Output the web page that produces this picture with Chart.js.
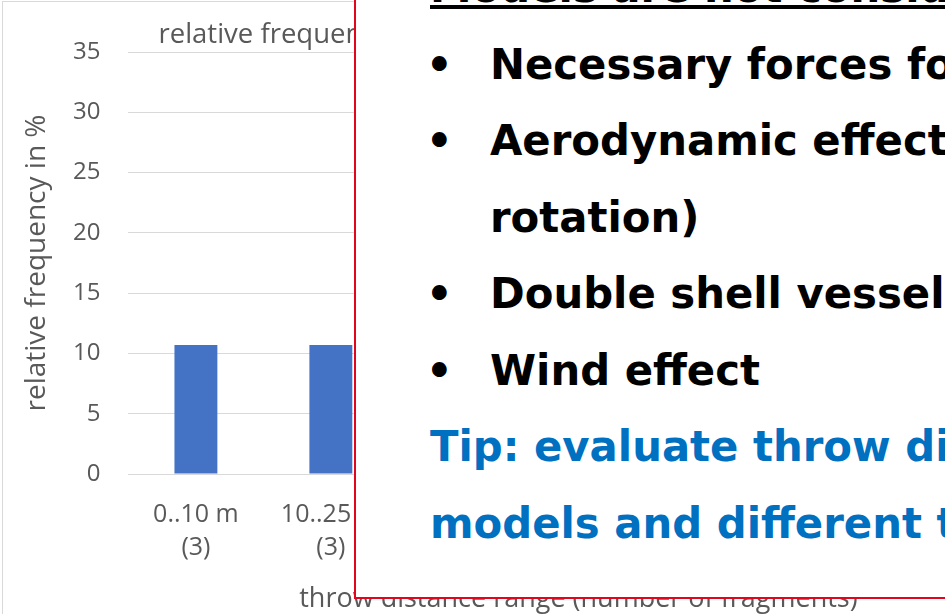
<!DOCTYPE html>
<html>
<head>
<meta charset="utf-8">
<script src="https://cdn.jsdelivr.net/npm/chart.js@4"></script>
<style>
    html, body {
        margin: 0;
        width: 945px;
        height: 614px;
        overflow: hidden;
        background: #fff;
    }
    #frame {
        position: absolute;
        left: 2px;
        top: 1px;
        border: 1px solid #d9d9d9;
    }
    #frame canvas { display: block; }
    #note {
        position: absolute;
        left: 354px;
        top: -80px;
        width: 820px;
        height: 679px;
        box-sizing: border-box;
        border: 2px solid #e1061e;
        background: #fff;
        padding: 28px 0 0 74px;
        font: bold 41.8px "DejaVu Sans", Verdana, sans-serif;
        line-height: 76.5px;
        color: #000;
        white-space: nowrap;
        overflow: hidden;
    }
    #note .head { text-decoration: underline; }
    #note .dot { display: inline-block; width: 60px; margin-left: -4px; margin-right: 4px; }
    #note .cont { padding-left: 60px; }
    #note .tip { color: #0070c0; }
</style>
</head>
<body>
<div id="frame"><canvas id="chart" width="1110" height="620"></canvas></div>

<div id="note">
    <div class="head">Models are not considered:</div>
    <div><span class="dot">•</span>Necessary forces for fragmentation</div>
    <div><span class="dot">•</span>Aerodynamic effects (drag, lift,</div>
    <div class="cont">rotation)</div>
    <div><span class="dot">•</span>Double shell vessels</div>
    <div><span class="dot">•</span>Wind effect</div>
    <div class="tip">Tip: evaluate throw distances with different</div>
    <div class="tip">models and different tools</div>
</div>

<script>
// only the first two classes can be read, the rest sit behind the text box
const rangeLabels = [['0..10 m', '(3)'], ['10..25 m', '(3)'], '', '', '', '', ''];
const relFrequency = [10.7, 10.7, null, null, null, null, null]; // percent, 3 of 28 fragments each
const yTicks = [0, 5, 10, 15, 20, 25, 30, 35];

const chartTitle = 'relative frequency';
const xTitle = 'throw distance range (number of fragments)';
const yTitle = 'relative frequency in %';

const grey = '#595959';
const gridGrey = '#d9d9d9';

// chart title and x axis title are placed by hand (they are not centred on the plot)
const titlePlugin = {
    id: 'titles',
    afterDraw(chart) {
        const ctx = chart.ctx;
        const area = chart.chartArea;
        ctx.save();
        ctx.fillStyle = grey;
        ctx.textBaseline = 'alphabetic';
        ctx.font = '27.5px "Open Sans", sans-serif';
        ctx.textAlign = 'left';
        ctx.fillText(chartTitle, area.left + 30, area.top - 9);
        ctx.font = '27px "Open Sans", sans-serif';
        ctx.textAlign = 'center';
        ctx.textBaseline = 'middle';
        ctx.fillText(xTitle, area.left + 450, area.bottom + 125);
        ctx.restore();
    }
};

Chart.defaults.font.family = '"Open Sans", sans-serif';
Chart.defaults.color = grey;

new Chart(document.getElementById('chart'), {
    type: 'bar',
    data: {
        labels: rangeLabels,
        datasets: [{
            data: relFrequency,
            backgroundColor: '#4472c4',
            borderWidth: 0,
            categoryPercentage: 1,
            barPercentage: 0.318
        }]
    },
    options: {
        responsive: false,
        animation: false,
        layout: { padding: { top: 50, left: 7, right: 40, bottom: 55 } },
        plugins: {
            legend: { display: false },
            tooltip: { enabled: false }
        },
        scales: {
            x: {
                grid: { color: 'transparent', tickColor: 'transparent', drawTicks: true, tickLength: 22 },
                border: { color: gridGrey },
                ticks: {
                    font: { size: 25, lineHeight: 1.32 },
                    padding: 2.5,
                    maxRotation: 0,
                    autoSkip: false
                }
            },
            y: {
                min: 0,
                max: 35,
                afterBuildTicks: axis => {
                    axis.ticks = yTicks.map(v => ({ value: v }));
                },
                grid: { color: gridGrey, tickColor: 'transparent', drawTicks: true, tickLength: 26 },
                border: { display: false },
                ticks: {
                    font: { size: 24 },
                    padding: 2
                },
                title: {
                    display: true,
                    text: yTitle,
                    font: { size: 28 },
                    padding: { top: 10.2, bottom: 17.2 }
                }
            }
        }
    },
    plugins: [titlePlugin]
});
</script>
</body>
</html>
